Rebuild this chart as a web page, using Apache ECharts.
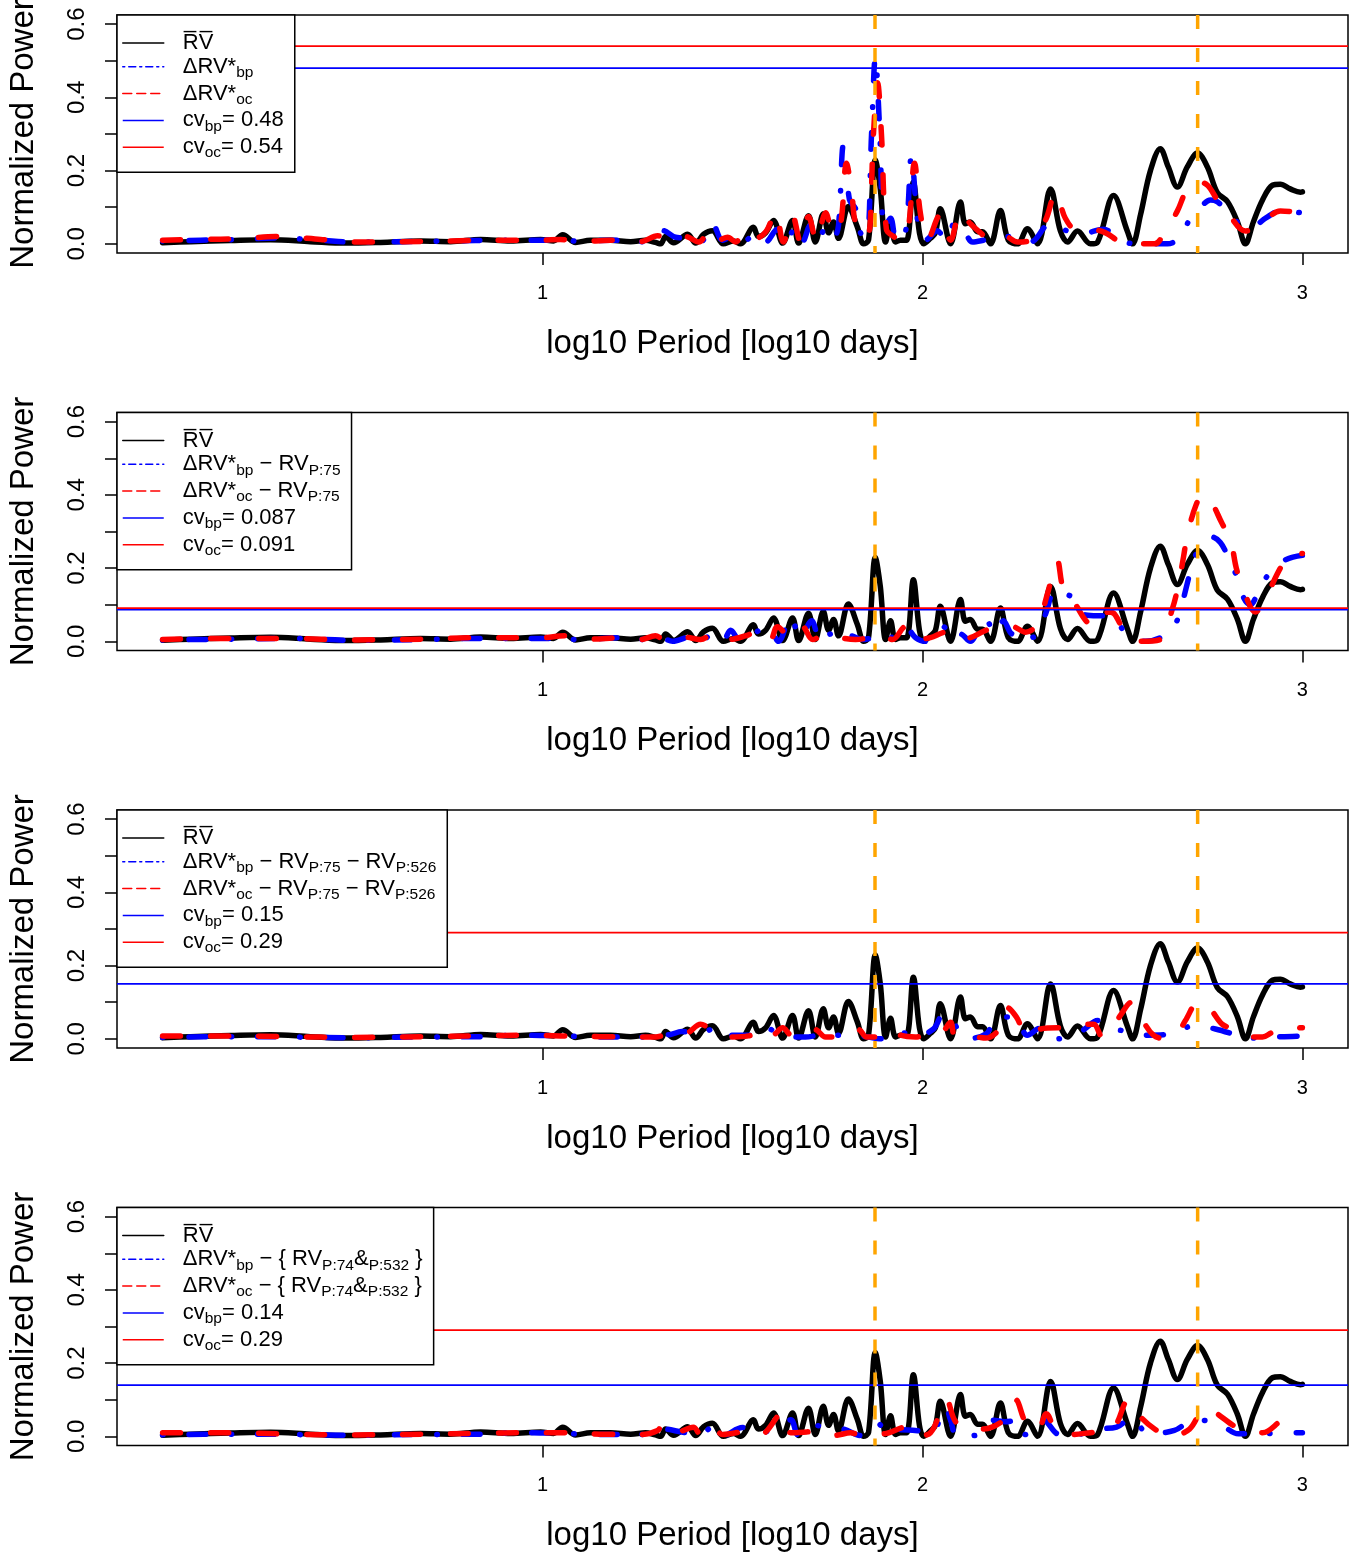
<!DOCTYPE html>
<html><head><meta charset="utf-8">
<script src="https://cdn.jsdelivr.net/npm/echarts@6/dist/echarts.min.js"></script>
<style>html,body{margin:0;padding:0;background:#fff}#c{width:1370px;height:1555px}</style>
</head><body><div id="c"></div><script>
// ---------- DATA (x = log10 period [days], y = normalized power) ----------
const rvMean = [[0.000,0.003],[0.074,0.006],[0.179,0.009],[0.284,0.011],[0.389,0.006],[0.482,0.002],[0.574,0.004],[0.679,0.008],[0.758,0.006],[0.837,0.012],[0.916,0.008],[0.995,0.012],[1.029,0.008],[1.053,0.025],[1.087,0.004],[1.126,0.010],[1.179,0.010],[1.232,0.006],[1.271,0.010],[1.297,0.004],[1.311,0.000],[1.324,0.020],[1.345,0.003],[1.382,0.026],[1.403,0.002],[1.424,0.026],[1.447,0.036],[1.476,0.000],[1.503,0.008],[1.521,0.000],[1.555,0.045],[1.568,0.020],[1.587,0.030],[1.608,0.064],[1.632,0.002],[1.658,0.064],[1.674,0.002],[1.700,0.077],[1.718,0.005],[1.739,0.082],[1.753,0.030],[1.766,0.060],[1.779,0.015],[1.805,0.102],[1.829,0.045],[1.845,0.000],[1.858,0.010],[1.876,0.229],[1.889,0.150],[1.903,0.005],[1.916,0.056],[1.929,0.005],[1.942,0.010],[1.958,0.010],[1.976,0.168],[1.992,0.030],[2.003,0.000],[2.021,0.015],[2.034,0.030],[2.047,0.096],[2.074,0.000],[2.100,0.114],[2.113,0.055],[2.126,0.060],[2.145,0.033],[2.158,0.033],[2.179,0.000],[2.205,0.091],[2.226,0.010],[2.250,0.000],[2.276,0.041],[2.303,0.000],[2.337,0.150],[2.363,0.035],[2.382,0.005],[2.408,0.035],[2.442,0.000],[2.461,0.005],[2.503,0.132],[2.539,0.035],[2.553,0.000],[2.574,0.080],[2.600,0.200],[2.626,0.260],[2.647,0.210],[2.671,0.155],[2.697,0.210],[2.724,0.248],[2.750,0.210],[2.776,0.140],[2.803,0.115],[2.829,0.060],[2.850,0.000],[2.871,0.060],[2.895,0.120],[2.921,0.160],[2.942,0.163],[2.968,0.150],[2.995,0.141],[3.000,0.142]];

const bpRaw = [[0.000,0.008],[0.100,0.010],[0.205,0.012],[0.297,0.016],[0.416,0.010],[0.495,0.005],[0.626,0.006],[0.758,0.008],[0.889,0.010],[0.995,0.010],[1.047,0.012],[1.100,0.006],[1.179,0.010],[1.258,0.006],[1.289,0.010],[1.318,0.036],[1.350,0.018],[1.389,0.015],[1.416,0.005],[1.447,0.056],[1.474,0.010],[1.508,0.025],[1.534,0.010],[1.561,0.030],[1.587,0.005],[1.618,0.040],[1.639,0.005],[1.666,0.045],[1.684,0.005],[1.705,0.050],[1.726,0.010],[1.747,0.050],[1.768,0.020],[1.779,0.050],[1.792,0.270],[1.808,0.120],[1.824,0.096],[1.837,0.030],[1.853,0.020],[1.866,0.300],[1.876,0.510],[1.887,0.320],[1.900,0.040],[1.916,0.070],[1.932,0.010],[1.955,0.030],[1.971,0.240],[1.989,0.050],[2.008,0.010],[2.039,0.036],[2.061,0.010],[2.087,0.060],[2.108,0.040],[2.132,0.005],[2.161,0.010],[2.205,0.020],[2.245,0.020],[2.284,0.005],[2.337,0.056],[2.382,0.035],[2.429,0.030],[2.476,0.040],[2.521,0.010],[2.561,0.000],[2.600,0.000],[2.645,0.000],[2.679,0.020],[2.705,0.070],[2.732,0.100],[2.758,0.120],[2.776,0.115],[2.811,0.080],[2.850,0.045],[2.876,0.050],[2.903,0.070],[2.942,0.090],[2.995,0.085],[3.000,0.084]];
const ocRaw = [[0.000,0.010],[0.100,0.012],[0.205,0.014],[0.297,0.020],[0.416,0.012],[0.495,0.005],[0.626,0.006],[0.758,0.008],[0.889,0.010],[0.995,0.010],[1.047,0.012],[1.100,0.006],[1.179,0.010],[1.258,0.006],[1.303,0.022],[1.329,0.010],[1.376,0.020],[1.411,0.005],[1.442,0.040],[1.463,0.010],[1.487,0.018],[1.508,0.005],[1.534,0.036],[1.561,0.015],[1.589,0.035],[1.613,0.087],[1.634,0.005],[1.658,0.077],[1.679,0.005],[1.700,0.075],[1.721,0.008],[1.745,0.085],[1.766,0.030],[1.784,0.050],[1.800,0.220],[1.813,0.150],[1.826,0.060],[1.845,0.070],[1.858,0.030],[1.871,0.300],[1.882,0.440],[1.892,0.300],[1.905,0.040],[1.924,0.020],[1.942,0.010],[1.961,0.030],[1.979,0.220],[1.995,0.080],[2.013,0.010],[2.047,0.080],[2.074,0.010],[2.100,0.090],[2.126,0.055],[2.153,0.030],[2.179,0.010],[2.218,0.020],[2.250,0.005],[2.284,0.010],[2.324,0.065],[2.350,0.140],[2.376,0.070],[2.403,0.040],[2.442,0.040],[2.482,0.030],[2.521,0.005],[2.561,0.000],[2.611,0.000],[2.639,0.035],[2.671,0.090],[2.697,0.150],[2.724,0.170],[2.750,0.160],[2.776,0.120],[2.803,0.085],[2.850,0.035],[2.892,0.055],[2.942,0.090],[3.000,0.085]];

const bpMinus75 = [[0.000,0.004],[0.179,0.006],[0.337,0.008],[0.495,0.003],[0.679,0.005],[0.837,0.008],[0.995,0.008],[1.100,0.005],[1.205,0.010],[1.258,0.005],[1.311,0.010],[1.342,0.000],[1.389,0.012],[1.416,0.000],[1.447,0.020],[1.474,0.000],[1.495,0.030],[1.521,0.000],[1.553,0.020],[1.595,0.040],[1.621,0.000],[1.653,0.066],[1.679,0.010],[1.708,0.056],[1.732,0.000],[1.758,0.020],[1.784,0.000],[1.811,0.015],[1.842,0.005],[1.876,0.010],[1.903,0.000],[1.929,0.020],[1.955,0.040],[1.982,0.010],[2.008,0.000],[2.034,0.020],[2.055,0.040],[2.079,0.005],[2.100,0.020],[2.126,0.000],[2.147,0.030],[2.168,0.056],[2.192,0.020],[2.213,0.056],[2.237,0.020],[2.258,0.030],[2.284,0.010],[2.303,0.020],[2.324,0.075],[2.350,0.140],[2.371,0.130],[2.395,0.120],[2.421,0.075],[2.461,0.070],[2.495,0.070],[2.521,0.040],[2.547,0.010],[2.587,0.000],[2.642,0.020],[2.674,0.065],[2.689,0.125],[2.705,0.190],[2.721,0.240],[2.745,0.270],[2.763,0.285],[2.784,0.270],[2.803,0.234],[2.826,0.180],[2.845,0.120],[2.863,0.100],[2.882,0.130],[2.905,0.175],[2.950,0.220],[3.000,0.235]];
const ocMinus75 = [[0.000,0.005],[0.179,0.008],[0.337,0.008],[0.495,0.004],[0.679,0.006],[0.837,0.010],[0.995,0.010],[1.061,0.015],[1.126,0.006],[1.205,0.010],[1.258,0.005],[1.297,0.015],[1.324,0.003],[1.371,0.012],[1.416,0.005],[1.455,0.025],[1.489,0.005],[1.534,0.015],[1.574,0.030],[1.600,0.005],[1.618,0.040],[1.653,0.010],[1.684,0.040],[1.711,0.005],[1.745,0.020],[1.784,0.010],[1.824,0.005],[1.858,0.010],[1.889,0.020],[1.921,0.005],[1.955,0.040],[1.982,0.005],[2.021,0.010],[2.061,0.025],[2.087,0.005],[2.126,0.010],[2.166,0.030],[2.203,0.040],[2.237,0.040],[2.271,0.025],[2.303,0.047],[2.329,0.130],[2.355,0.220],[2.371,0.143],[2.403,0.100],[2.434,0.052],[2.461,0.040],[2.489,0.080],[2.505,0.075],[2.534,0.025],[2.574,0.000],[2.626,0.005],[2.658,0.090],[2.674,0.157],[2.687,0.230],[2.697,0.290],[2.721,0.375],[2.739,0.400],[2.758,0.385],[2.787,0.325],[2.811,0.275],[2.826,0.200],[2.842,0.150],[2.876,0.080],[2.903,0.120],[2.942,0.200],[2.968,0.240],[3.000,0.240]];

const bpMinus75and526 = [[0.000,0.004],[0.179,0.006],[0.337,0.005],[0.495,0.003],[0.679,0.005],[0.837,0.006],[0.942,0.010],[1.047,0.008],[1.153,0.005],[1.258,0.005],[1.337,0.012],[1.366,0.020],[1.416,0.015],[1.455,0.030],[1.476,0.010],[1.534,0.010],[1.574,0.008],[1.595,0.027],[1.626,0.010],[1.658,0.005],[1.692,0.005],[1.732,0.010],[1.776,0.010],[1.821,0.010],[1.858,0.005],[1.887,0.000],[1.932,0.020],[1.955,0.015],[1.976,0.005],[2.029,0.027],[2.055,0.068],[2.079,0.050],[2.113,0.000],[2.168,0.014],[2.197,0.060],[2.242,0.060],[2.276,0.010],[2.311,0.030],[2.355,0.000],[2.421,0.023],[2.461,0.050],[2.505,0.027],[2.547,0.020],[2.592,0.010],[2.658,0.014],[2.713,0.036],[2.771,0.027],[2.826,0.010],[2.855,0.000],[2.895,0.006],[2.945,0.006],[3.000,0.008]];
const ocMinus75and526 = [[0.000,0.008],[0.179,0.008],[0.337,0.006],[0.495,0.004],[0.679,0.006],[0.837,0.008],[0.942,0.010],[1.047,0.008],[1.153,0.006],[1.258,0.005],[1.297,0.005],[1.337,0.015],[1.376,0.015],[1.416,0.040],[1.437,0.030],[1.468,0.010],[1.495,0.005],[1.542,0.008],[1.587,0.027],[1.605,0.010],[1.632,0.030],[1.655,0.010],[1.692,0.008],[1.718,0.025],[1.745,0.005],[1.797,0.005],[1.832,0.025],[1.853,0.005],[1.889,0.005],[1.921,0.025],[1.942,0.010],[1.982,0.005],[2.021,0.015],[2.047,0.015],[2.074,0.045],[2.087,0.005],[2.139,0.005],[2.166,0.002],[2.205,0.030],[2.224,0.085],[2.247,0.060],[2.276,0.010],[2.311,0.027],[2.355,0.030],[2.376,0.030],[2.416,0.040],[2.450,0.040],[2.474,0.005],[2.500,0.030],[2.521,0.064],[2.550,0.100],[2.574,0.060],[2.608,0.010],[2.642,0.000],[2.674,0.020],[2.692,0.050],[2.726,0.100],[2.758,0.080],[2.789,0.040],[2.829,0.023],[2.861,0.005],[2.895,0.005],[2.921,0.018],[2.961,0.032],[3.000,0.030]];

const bpMinusJoint = [[0.000,0.004],[0.179,0.006],[0.337,0.005],[0.495,0.003],[0.679,0.005],[0.837,0.006],[0.942,0.010],[1.047,0.008],[1.153,0.005],[1.258,0.005],[1.318,0.020],[1.366,0.012],[1.411,0.005],[1.455,0.030],[1.476,0.002],[1.526,0.024],[1.566,0.007],[1.605,0.020],[1.653,0.045],[1.674,0.002],[1.718,0.030],[1.758,0.020],[1.787,0.020],[1.837,0.002],[1.882,0.035],[1.911,0.005],[1.939,0.018],[1.989,0.015],[2.024,0.010],[2.061,0.080],[2.074,0.044],[2.092,0.000],[2.158,0.007],[2.187,0.044],[2.218,0.040],[2.253,0.045],[2.271,0.005],[2.316,0.046],[2.361,0.005],[2.405,0.005],[2.461,0.020],[2.511,0.025],[2.550,0.050],[2.595,0.007],[2.663,0.016],[2.713,0.044],[2.771,0.040],[2.832,0.007],[2.876,0.007],[2.942,0.009],[3.000,0.010]];
const ocMinusJoint = [[0.000,0.010],[0.179,0.010],[0.337,0.006],[0.495,0.004],[0.679,0.006],[0.837,0.008],[0.942,0.010],[1.047,0.010],[1.153,0.006],[1.258,0.005],[1.303,0.016],[1.316,0.035],[1.350,0.010],[1.397,0.025],[1.416,0.005],[1.447,0.030],[1.474,0.005],[1.547,0.015],[1.574,0.005],[1.632,0.065],[1.653,0.010],[1.695,0.012],[1.742,0.015],[1.771,0.003],[1.811,0.010],[1.837,0.003],[1.905,0.008],[1.955,0.025],[1.976,0.000],[2.021,0.010],[2.063,0.100],[2.087,0.040],[2.124,0.020],[2.158,0.020],[2.213,0.044],[2.245,0.100],[2.271,0.040],[2.303,0.016],[2.326,0.062],[2.350,0.020],[2.389,0.005],[2.442,0.010],[2.482,0.015],[2.508,0.030],[2.542,0.100],[2.568,0.060],[2.611,0.020],[2.655,0.000],[2.703,0.020],[2.732,0.066],[2.750,0.077],[2.771,0.065],[2.826,0.025],[2.855,0.016],[2.895,0.010],[2.945,0.044],[2.989,0.071],[3.000,0.072]];

const bpSeries = [bpRaw, bpMinus75, bpMinus75and526, bpMinusJoint];
const ocSeries = [ocRaw, ocMinus75, ocMinus75and526, ocMinusJoint];
const cvBp = [0.48, 0.087, 0.15, 0.14];
const cvOc = [0.54, 0.091, 0.29, 0.29];
const planetPeriods = [75, 530];           // days (orange markers)
const xTickValues = [1, 2, 3];
const yTickValues = [0, 0.1, 0.2, 0.3, 0.4, 0.5, 0.6];
const yLabelValues = [0, 0.2, 0.4, 0.6];
const cvBpText = ['0.48', '0.087', '0.15', '0.14'];
const cvOcText = ['0.54', '0.091', '0.29', '0.29'];
const bpLegendText = [
  '{f|ΔRV*}{s|bp}',
  '{f|ΔRV*}{s|bp}{m| − RV}{s|P:75}',
  '{f|ΔRV*}{s|bp}{m| − RV}{s|P:75}{m| − RV}{s|P:526}',
  '{f|ΔRV*}{s|bp}{m| − }{m|\u007B RV}{s|P:74}{m|&}{s|P:532}{m| \u007D}'
];
const ocLegendText = [
  '{f|ΔRV*}{s|oc}',
  '{f|ΔRV*}{s|oc}{m| − RV}{s|P:75}',
  '{f|ΔRV*}{s|oc}{m| − RV}{s|P:75}{m| − RV}{s|P:526}',
  '{f|ΔRV*}{s|oc}{m| − }{m|\u007B RV}{s|P:74}{m|&}{s|P:532}{m| \u007D}'
];

// ---------- LAYOUT / STYLE ----------
const FONT = 'Liberation Sans';
const X_MIN = -0.12, X_MAX = 3.12, Y_MIN = -0.025, Y_MAX = 0.625;
const panelTops = [15, 412.5, 810, 1207.5];
const PANEL_H = 238;
const BLUE = '#0000FF', RED = '#FF0000', ORANGE = '#FFA500';

const grids = [], xAxes = [], yAxes = [], series = [], legends = [];
const rich = {
  f: {fontFamily: FONT, fontSize: 22, lineHeight: 26, color: '#000', padding: [0, 0, 0, 14]},
  m: {fontFamily: FONT, fontSize: 22, lineHeight: 26, color: '#000'},
  s: {fontFamily: FONT, fontSize: 15.5, lineHeight: 14, color: '#000', padding: [12, 0, 0, 0]}
};

panelTops.forEach((top, i) => {
  grids.push({left: 117, right: 22, top: top, height: PANEL_H, show: true,
    outerBoundsMode: 'none', containLabel: false,
    borderColor: '#000', borderWidth: 1.5, backgroundColor: 'transparent'});
  xAxes.push({type: 'value', gridIndex: i, min: X_MIN, max: X_MAX, position: 'bottom',
    name: 'log10 Period [log10 days]', nameLocation: 'middle', nameGap: 74,
    nameTextStyle: {fontFamily: FONT, fontSize: 33, color: '#000'},
    axisLine: {show: false, onZero: false}, splitLine: {show: false},
    axisTick: {show: true, inside: false, length: 12, customValues: xTickValues,
      lineStyle: {color: '#000', width: 1.5}},
    axisLabel: {show: true, customValues: xTickValues, margin: 30,
      fontFamily: FONT, fontSize: 20, color: '#000', formatter: v => String(v)}});
  yAxes.push({type: 'value', gridIndex: i, min: Y_MIN, max: Y_MAX, position: 'left',
    name: 'Normalized Power', nameLocation: 'middle', nameGap: 77, nameRotate: 90,
    nameTextStyle: {fontFamily: FONT, fontSize: 33, color: '#000'},
    axisLine: {show: false, onZero: false}, splitLine: {show: false},
    axisTick: {show: true, inside: false, length: 12, customValues: yTickValues,
      lineStyle: {color: '#000', width: 1.5}},
    axisLabel: {show: true, customValues: yLabelValues, rotate: 90, margin: 28,
      fontFamily: FONT, fontSize: 24, color: '#000', formatter: v => v.toFixed(1)}});

  const k = 'p' + (i + 1);
  const base = {type: 'line', xAxisIndex: i, yAxisIndex: i, symbol: 'none',
    showSymbol: false, animation: false, silent: true, clip: true};
  series.push(Object.assign({}, base, {name: k + 'rv', data: rvMean, smooth: 0.35,
    lineStyle: {color: '#000', width: 5.5, type: 'solid', cap: 'round', join: 'round'}}));
  series.push(Object.assign({}, base, {name: k + 'bp', data: bpSeries[i], smooth: 0.35,
    lineStyle: {color: BLUE, width: 5.5, type: [0.5, 26, 17, 25], cap: 'round', join: 'round'}}));
  series.push(Object.assign({}, base, {name: k + 'oc', data: ocSeries[i], smooth: 0.35,
    lineStyle: {color: RED, width: 5.5, type: [18, 30], cap: 'round', join: 'round'}}));
  series.push(Object.assign({}, base, {name: k + 'cvbp', data: [[X_MIN, cvBp[i]], [X_MAX, cvBp[i]]],
    lineStyle: {color: BLUE, width: 1.8}}));
  series.push(Object.assign({}, base, {name: k + 'cvoc', data: [[X_MIN, cvOc[i]], [X_MAX, cvOc[i]]],
    lineStyle: {color: RED, width: 1.8}}));
  planetPeriods.forEach((p, j) => {
    const lx = Math.log10(p);
    series.push(Object.assign({}, base, {name: k + 'pl' + j, data: [[lx, Y_MAX], [lx, Y_MIN]], z: 5,
      lineStyle: {color: ORANGE, width: 3.5, type: [14, 19], cap: 'butt'}}));
  });

  const labels = {};
  labels[k + 'rv'] = '{f|R\u0305V\u0305}';
  labels[k + 'bp'] = bpLegendText[i];
  labels[k + 'oc'] = ocLegendText[i];
  labels[k + 'cvbp'] = '{f|cv}{s|bp}{m|= ' + cvBpText[i] + '}';
  labels[k + 'cvoc'] = '{f|cv}{s|oc}{m|= ' + cvOcText[i] + '}';
  legends.push({
    orient: 'vertical', left: 117, top: top, padding: [17, 11, 11, 5],
    itemGap: -1.2, itemWidth: 41, itemHeight: 26, selectedMode: false,
    backgroundColor: '#fff', borderColor: '#000', borderWidth: 1.5, borderRadius: 0,
    itemStyle: {opacity: 0},
    textStyle: {fontFamily: FONT, fontSize: 22, color: '#000', rich: rich},
    formatter: name => labels[name],
    data: [
      {name: k + 'rv', lineStyle: {color: '#000', width: 1.5, type: 'solid'}},
      {name: k + 'bp', lineStyle: {color: BLUE, width: 1.5, type: [2, 4, 7, 4]}},
      {name: k + 'oc', lineStyle: {color: RED, width: 1.5, type: [9, 5]}},
      {name: k + 'cvbp', lineStyle: {color: BLUE, width: 1.5, type: 'solid'}},
      {name: k + 'cvoc', lineStyle: {color: RED, width: 1.5, type: 'solid'}}
    ]
  });
});

const chart = echarts.init(document.getElementById('c'), null, {renderer: 'canvas'});
chart.setOption({
  animation: false, backgroundColor: '#fff',
  textStyle: {fontFamily: FONT},
  grid: grids, xAxis: xAxes, yAxis: yAxes, legend: legends, series: series
});
</script></body></html>
